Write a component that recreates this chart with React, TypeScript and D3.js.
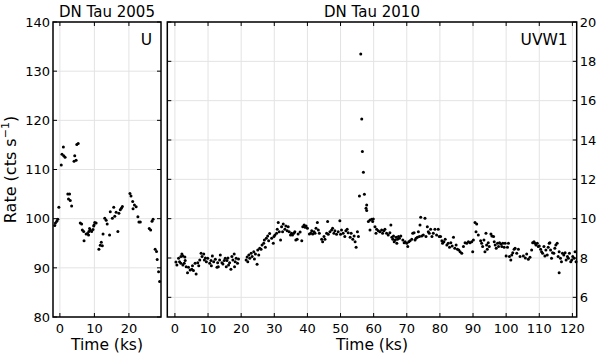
import * as d3 from 'd3';
import React from 'react';

// DN Tau 2005, U filter
const uTime2005 = [
  -1.5, -1.3, -0.9, -0.6, -0.3, 0.4, 0.6, 1.0, 1.1, 1.5, 2.3, 2.8, 2.5, 3.0, 3.4, 4.1, 4.3, 4.7, 4.9, 5.3,
  5.9, 6.3, 6.5, 6.9, 7.0, 7.6, 8.0, 8.3, 8.4, 8.8, 8.6, 9.2, 9.6, 9.8, 9.9, 10.1, 10.5, 11.3, 11.7, 12.0,
  12.3, 12.5, 13.0, 13.4, 13.7, 14.4, 14.6, 15.2, 15.6, 15.9, 16.3, 16.8, 17.1, 17.5, 17.8, 18.1, 20.3, 20.6,
  21.1, 21.6, 21.2, 22.1, 22.6, 22.9, 23.3, 25.9, 26.3, 26.7, 27.0, 27.6, 28.0, 28.2, 28.6, 28.9,
];
const uRate2005 = [
  98.6, 99.1, 99.5, 99.9, 102.3, 110.9, 113.1, 114.6, 112.8, 112.5, 105.0, 105.0, 104.0, 103.7, 102.6, 111.7, 112.8, 111.9, 115.1, 115.3,
  99.1, 98.9, 97.7, 97.4, 95.5, 96.9, 97.0, 96.7, 97.4, 97.7, 98.0, 97.4, 97.8, 98.5, 98.7, 99.2, 99.1, 93.8, 94.6, 95.2,
  94.5, 96.9, 100.1, 99.7, 98.9, 96.7, 101.4, 100.1, 102.3, 100.5, 101.3, 97.4, 101.1, 101.8, 102.1, 102.5, 105.1, 104.6,
  103.5, 102.8, 102.0, 102.4, 100.4, 99.3, 99.3, 98.0, 97.7, 99.5, 99.9, 93.8, 93.3, 91.7, 89.2, 87.2,
];

// DN Tau 2010, UVW1 filter
const uvw1Time2010 = [
  0.3, 0.6, 1.1, 1.4, 1.8, 1.8, 2.1, 2.4, 2.4, 2.8, 3.0, 3.1, 3.4, 3.8, 4.1, 4.6, 5.1, 5.3, 5.6, 6.1,
  6.4, 6.9, 7.2, 7.5, 7.9, 8.2, 8.7, 8.9, 9.2, 9.5, 9.9, 10.5, 10.9, 11.0, 11.3, 11.7, 12.2, 12.7, 12.9, 13.1,
  13.5, 13.7, 14.2, 14.5, 14.9, 15.2, 15.5, 15.7, 16.0, 16.2, 16.5, 16.9, 17.2, 17.5, 17.9, 18.0, 18.2, 18.5, 18.9, 19.2,
  21.5, 21.8, 22.0, 22.3, 22.6, 23.0, 23.3, 23.8, 24.0, 24.3, 24.8, 25.0, 25.3, 25.6, 26.0, 26.3, 26.8, 27.0, 27.3, 27.6,
  28.0, 28.3, 28.6, 29.2, 29.7, 29.9, 30.2, 30.7, 30.9, 31.2, 31.5, 31.9, 32.2, 32.5, 32.7, 33.2, 33.5, 33.9, 34.2, 34.5,
  34.9, 35.2, 35.5, 35.9, 36.2, 36.5, 36.9, 37.2, 37.8, 38.3, 38.6, 39.0, 39.3, 39.6, 40.0, 40.6, 41.0, 41.3, 41.6, 42.0,
  42.3, 42.6, 43.0, 43.3, 43.6, 44.3, 44.6, 45.0, 45.3, 45.8, 46.1, 46.3, 46.8, 47.3, 47.6, 48.0, 48.3, 48.8, 49.3, 49.8,
  50.0, 50.3, 50.8, 51.3, 51.6, 52.0, 52.3, 52.9, 53.2, 53.7, 54.1, 54.4, 54.7, 55.1, 55.4, 55.7, 56.1, 56.4, 56.6, 56.9,
  57.2, 57.7, 57.9, 57.9, 58.4, 58.9, 58.9, 59.4, 59.7, 59.9, 60.4, 60.7, 60.9, 61.4, 61.9, 62.4, 62.7, 63.1, 63.4, 63.9,
  64.4, 64.9, 65.2, 65.5, 65.8, 66.0, 66.2, 66.5, 66.8, 67.0, 67.2, 67.5, 67.8, 68.2, 68.8, 69.2, 69.5, 70.0, 70.3, 70.6,
  71.0, 71.5, 71.8, 72.2, 72.5, 72.8, 73.2, 73.5, 73.8, 74.0, 74.2, 74.5, 75.0, 75.5, 75.8, 76.2, 76.5, 76.8, 77.2, 77.6,
  78.0, 78.5, 79.0, 79.5, 79.8, 80.2, 80.6, 80.8, 81.2, 81.6, 82.1, 82.5, 82.9, 83.3, 83.7, 84.1, 84.5, 84.9, 85.3, 85.7,
  86.1, 86.6, 87.1, 87.6, 88.1, 88.6, 89.1, 89.6, 89.9, 90.1, 90.6, 90.9, 91.1, 91.6, 92.3, 92.6, 92.9, 93.3, 93.6, 93.9,
  94.1, 94.3, 94.6, 94.9, 95.4, 95.7, 96.2, 96.4, 96.7, 97.0, 97.4, 97.7, 98.0, 98.4, 98.7, 99.0, 99.4, 99.7, 100.0, 100.4,
  100.7, 101.0, 101.4, 101.7, 102.0, 102.4, 102.7, 103.2, 103.7, 104.2, 105.2, 105.8, 106.2, 106.7, 107.2, 107.7, 108.0, 108.4, 108.7, 109.0,
  109.4, 109.7, 110.0, 110.4, 110.7, 111.0, 111.4, 111.7, 112.0, 112.4, 112.7, 113.0, 113.2, 113.4, 113.7, 114.0, 114.4, 114.7, 115.0, 115.4,
  115.7, 116.0, 116.0, 116.4, 116.7, 117.0, 117.4, 117.8, 118.1, 118.5, 118.8, 119.1, 119.5, 119.8, 120.1, 120.5, 120.8, 121.1,
];
const uvw1Rate2010 = [
  7.80, 7.65, 7.99, 7.81, 8.07, 7.73, 8.20, 8.10, 7.65, 7.73, 8.05, 7.87, 7.56, 7.25, 7.53, 7.39, 7.43, 7.60, 7.36, 7.73,
  7.19, 7.76, 7.60, 7.90, 8.24, 8.07, 8.20, 7.90, 8.00, 7.81, 7.99, 7.73, 7.87, 7.60, 8.10, 7.81, 7.94, 7.53, 7.76, 7.55,
  7.90, 8.15, 7.76, 7.70, 7.87, 7.99, 7.55, 7.87, 8.00, 7.65, 7.76, 7.43, 8.07, 7.90, 8.20, 7.55, 7.81, 7.99, 7.73, 7.95,
  7.90, 8.05, 7.81, 8.15, 7.99, 8.24, 8.07, 8.32, 7.95, 8.20, 7.68, 8.41, 8.15, 8.49, 8.44, 8.66, 8.75, 8.92, 8.55, 9.00,
  9.12, 8.88, 9.25, 9.00, 8.75, 9.09, 9.17, 9.26, 9.46, 9.80, 9.34, 8.92, 9.59, 9.34, 9.73, 9.46, 9.63, 9.39, 9.59, 9.34,
  9.17, 9.26, 9.17, 9.26, 9.34, 8.92, 8.95, 9.22, 9.32, 8.88, 9.59, 9.68, 9.56, 9.63, 9.51, 9.22, 9.26, 9.39, 9.22, 9.34,
  9.26, 9.51, 9.80, 9.43, 9.26, 8.95, 8.83, 9.09, 8.95, 9.26, 9.85, 9.21, 9.34, 9.43, 9.51, 9.26, 9.39, 9.21, 9.34, 9.90,
  9.21, 9.43, 9.26, 9.09, 9.39, 9.46, 9.29, 9.05, 9.26, 8.95, 9.12, 8.83, 8.55, 9.34, 9.09, 11.15, 18.37, 15.07, 13.41, 12.36,
  11.24, 10.53, 10.70, 10.41, 9.85, 9.93, 9.43, 9.97, 9.85, 9.98, 9.59, 9.26, 9.46, 9.39, 9.34, 9.43, 9.26, 9.39, 9.46, 9.26,
  9.17, 9.29, 9.68, 9.05, 8.95, 9.12, 8.83, 8.92, 9.05, 8.75, 8.95, 9.09, 9.00, 9.12, 8.92, 8.78, 8.83, 8.75, 8.58, 8.83,
  8.88, 8.95, 9.26, 9.29, 8.92, 9.00, 9.05, 9.34, 9.09, 9.68, 10.07, 9.12, 9.17, 10.02, 9.09, 9.59, 9.34, 9.26, 9.46, 9.09,
  9.26, 9.46, 9.17, 9.46, 9.09, 9.09, 8.88, 8.75, 8.83, 8.95, 8.66, 8.75, 8.55, 8.78, 8.61, 9.05, 8.49, 8.66, 8.44, 8.41,
  8.32, 8.24, 8.58, 8.78, 8.75, 8.83, 8.78, 8.83, 8.32, 8.92, 9.80, 9.34, 9.73, 9.17, 8.88, 8.75, 8.58, 8.92, 8.32, 9.26,
  8.66, 8.44, 8.78, 8.58, 9.22, 9.12, 9.09, 8.83, 8.66, 8.49, 8.75, 8.58, 8.78, 8.71, 8.58, 8.75, 8.55, 8.75, 8.10, 8.55,
  8.75, 8.07, 7.90, 8.15, 8.27, 8.44, 8.49, 8.24, 8.44, 8.07, 8.10, 8.00, 8.20, 7.94, 8.04, 8.41, 8.78, 8.83, 8.75, 8.66,
  8.75, 8.58, 8.61, 8.44, 8.32, 8.24, 8.58, 8.10, 8.41, 8.15, 8.55, 8.75, 8.78, 8.41, 7.99, 8.27, 8.24, 8.49, 8.66, 8.75,
  8.07, 8.32, 7.25, 7.99, 7.81, 8.24, 8.15, 8.27, 7.90, 8.07, 7.99, 8.24, 7.81, 7.90, 8.07, 7.99, 8.32, 7.81,
];

const leftXTicks = [0, 10, 20];
const leftYTicks = [80, 90, 100, 110, 120, 130, 140];
const rightXTicks = [0, 10, 20, 30, 40, 50, 60, 70, 80, 90, 100, 110, 120];
const rightYTicks = [6, 8, 10, 12, 14, 16, 18, 20];

const FONT = 'DejaVu Sans';
const TOP = 22;
const BOTTOM = 317;
const TICK = 4;

function Panel({ x, y, xTicks, yTicks, times, rates, title, filter, labelSide }) {
  const [x0, x1] = x.range();
  return (
    <g>
      {xTicks.map((t) => (
        <line key={'gx' + t} x1={x(t)} x2={x(t)} y1={TOP} y2={BOTTOM} stroke="#e3e3e3" strokeWidth={1} />
      ))}
      {yTicks.map((t) => (
        <line key={'gy' + t} x1={x0} x2={x1} y1={y(t)} y2={y(t)} stroke="#e3e3e3" strokeWidth={1} />
      ))}
      {xTicks.map((t) => (
        <g key={'tx' + t}>
          <line x1={x(t)} x2={x(t)} y1={BOTTOM} y2={BOTTOM - TICK} stroke="#000" />
          <line x1={x(t)} x2={x(t)} y1={TOP} y2={TOP + TICK} stroke="#000" />
          <text x={x(t)} y={332.5} textAnchor="middle" fontSize={13} fontFamily={FONT}>{t}</text>
        </g>
      ))}
      {yTicks.map((t) => (
        <g key={'ty' + t}>
          <line x1={x0} x2={x0 + TICK} y1={y(t)} y2={y(t)} stroke="#000" />
          <line x1={x1} x2={x1 - TICK} y1={y(t)} y2={y(t)} stroke="#000" />
          <text
            x={labelSide === 'left' ? x0 - 3 : x1 + 3}
            y={y(t)}
            dy="0.36em"
            textAnchor={labelSide === 'left' ? 'end' : 'start'}
            fontSize={13}
            fontFamily={FONT}
          >
            {t}
          </text>
        </g>
      ))}
      {times.map((t, i) => (
        <circle key={'p' + i} cx={x(t)} cy={y(rates[i])} r={1.5} fill="#000" />
      ))}
      <rect x={x0} y={TOP} width={x1 - x0} height={BOTTOM - TOP} fill="none" stroke="#000" strokeWidth={1.5} />
      <text x={(x0 + x1) / 2} y={17} textAnchor="middle" fontSize={15} fontFamily={FONT}>{title}</text>
      <text x={x1 - 9} y={45} textAnchor="end" fontSize={15.5} fontFamily={FONT}>{filter}</text>
      <text x={(x0 + x1) / 2} y={349.5} textAnchor="middle" fontSize={15.5} fontFamily={FONT}>Time (ks)</text>
    </g>
  );
}

export default function App() {
  const xLeft = d3.scaleLinear().domain([-2, 29.3]).range([53, 161]);
  const yLeft = d3.scaleLinear().domain([80, 140]).range([BOTTOM, TOP]);
  const xRight = d3.scaleLinear().domain([-2.3, 121.3]).range([167.3, 576.7]);
  const yRight = d3.scaleLinear().domain([5, 20]).range([BOTTOM, TOP]);

  return (
    <div style={{ position: 'absolute', left: 0, top: 0 }}>
      <svg width={600} height={355} style={{ display: 'block', background: '#fff' }}>
        <Panel x={xLeft} y={yLeft} xTicks={leftXTicks} yTicks={leftYTicks} times={uTime2005} rates={uRate2005}
          title="DN Tau 2005" filter="U" labelSide="left" />
        <Panel x={xRight} y={yRight} xTicks={rightXTicks} yTicks={rightYTicks} times={uvw1Time2010} rates={uvw1Rate2010}
          title="DN Tau 2010" filter="UVW1" labelSide="right" />
        <text transform={`translate(16,${(TOP + BOTTOM) / 2}) rotate(-90)`} textAnchor="middle" fontSize={16} fontFamily={FONT}>
          Rate (cts s<tspan fontSize={11} dy={-7}>−1</tspan><tspan dy={7}>)</tspan>
        </text>
      </svg>
    </div>
  );
}
